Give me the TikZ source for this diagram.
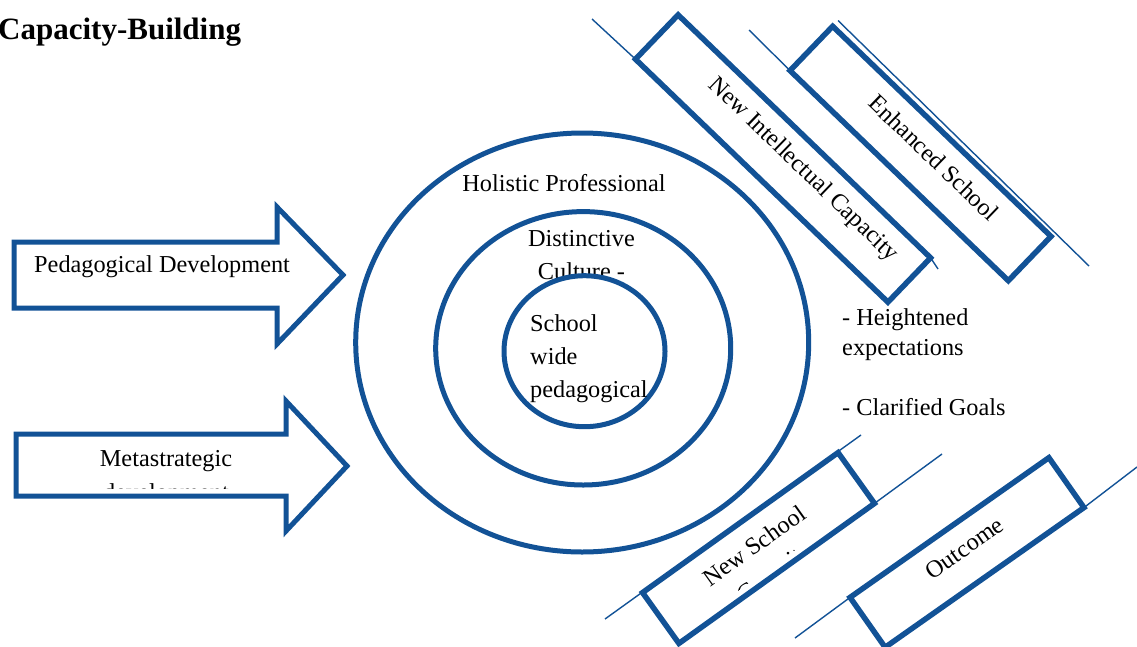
\documentclass[tikz,border=0pt]{standalone}
\usepackage{fontspec}
\setmainfont{Liberation Serif}
\usetikzlibrary{calc,shapes.geometric}
\definecolor{ringblue}{RGB}{18,82,150}
\begin{document}
\begin{tikzpicture}[x=1pt,y=-1pt,
  ring/.style={ellipse,draw=ringblue,line width=5pt,fill=white,inner sep=0pt},
  flow/.style={draw=ringblue,line width=5pt,fill=white,line join=miter},
  card/.style={rectangle,draw=ringblue,line width=5.5pt,fill=white,inner sep=0pt,outer sep=0pt},
  guide/.style={draw=ringblue,line width=1.4pt},
  lbl/.style={font=\fontsize{24.3}{30}\selectfont,inner sep=0pt,text=black},
  heading/.style={font=\fontsize{31}{36}\selectfont\bfseries,inner sep=0pt}]
\path[use as bounding box] (0,0) rectangle (1137,646);
\clip (0,0) rectangle (1137,646);

% heading
\node[heading,anchor=base west] (head) at (-2,39) {Capacity-Building};

% input arrows
\draw[flow] (14,242) -- (277,242) -- (277,207) -- (343,275) -- (277,344) -- (277,308) -- (14,308) -- cycle;
\node[lbl,anchor=base west] (pedtxt) at (34,272) {Pedagogical Development};
\draw[flow] (16,434) -- (286,434) -- (286,401) -- (347,466) -- (286,531) -- (286,496) -- (16,496) -- cycle;
\node[lbl,anchor=base] (metatxt) at (166,466) {Metastrategic};
\begin{scope}
  \clip (16,434) rectangle (286,488.5);
  \node[lbl,anchor=base] (devtxt) at (166,500) {development};
\end{scope}

% concentric rings
\node[ring,minimum width=453pt,minimum height=419pt] (outer) at (582.2,342.5) {};
\node[ring,minimum width=295pt,minimum height=273.4pt] (middle) at (583.2,348.3) {};
\node[lbl,anchor=base] (holtxt) at (564,191) {Holistic Professional};
\node[lbl,anchor=base] (disttxt) at (581.5,246) {Distinctive};
\node[lbl,anchor=base] (culttxt) at (581.5,279) {Culture -};
\node[ring,minimum width=161pt,minimum height=151pt] (inner) at (584.5,351.2) {};
\node[lbl,anchor=base west] (schtxt) at (530,331) {School};
\node[lbl,anchor=base west] (widetxt) at (530,364) {wide};
\node[lbl,anchor=base west] (pedgtxt) at (530,397) {pedagogical};

% guide lines behind the lower cards
\coordinate (g5a) at (605,619);
\coordinate (g5b) at (861,435);
\draw[guide] (g5a) -- (g5b);
\coordinate (g4a) at (838,20.5);
\coordinate (g4b) at (1089,266);
\draw[guide] (g4a) -- (g4b);

% outcome cards
\node[card,rotate=-43.9,minimum width=350.4pt,minimum height=61.5pt] (b1) at (783,158.5) {};
\node[card,rotate=-43.9,minimum width=303pt,minimum height=61.5pt] (b2) at (920.5,153.5) {};
\node[card,rotate=35.6,minimum width=240.5pt,minimum height=62.5pt] (b3) at (758.5,548) {};
\node[card,rotate=35.1,minimum width=243pt,minimum height=61pt] (b4) at (967,552.5) {};

% guide line stubs at the card corners
\coordinate (g1) at (592,19);
\coordinate (g2) at (938,269);
\coordinate (g3) at (749,30);
\coordinate (g6) at (942,454);
\coordinate (g7) at (795,638);
\coordinate (g8) at (1137,467);
\draw[guide] (g1) -- (b1.south west);
\draw[guide] (b1.north east) -- (g2);
\draw[guide] (g3) -- (b2.south west);
\draw[guide] (b3.south east) -- (g6);
\draw[guide] (g7) -- (b4.north west);
\draw[guide] (b4.south east) -- (g8);

% card labels
\node[lbl,rotate=-43.9] (b1txt) at (803,170) {New Intellectual Capacity};
\node[lbl,rotate=-43.9] (b2txt) at (934,157.5) {Enhanced School};
\begin{scope}
  \clip (b3.north west) -- (b3.north east) -- ($(b3.north east)!0.86!(b3.south east)$)
        -- ($(b3.north west)!0.86!(b3.south west)$) -- cycle;
  \node[lbl,rotate=35.6,anchor=base] (b3txt) at (759.2,552.4) {New School};
  \node[lbl,rotate=35.6,anchor=base] (b3more) at (780,578.1) {Capacity};
\end{scope}
\node[lbl,rotate=35.1] (b4txt) at (964.5,548) {Outcome};

% side notes
\node[lbl,anchor=base west] (hx) at (842,325) {- Heightened};
\node[lbl,anchor=base west] (ex) at (842,355) {expectations};
\node[lbl,anchor=base west] (cg) at (842,415) {- Clarified Goals};
\end{tikzpicture}
\end{document}
